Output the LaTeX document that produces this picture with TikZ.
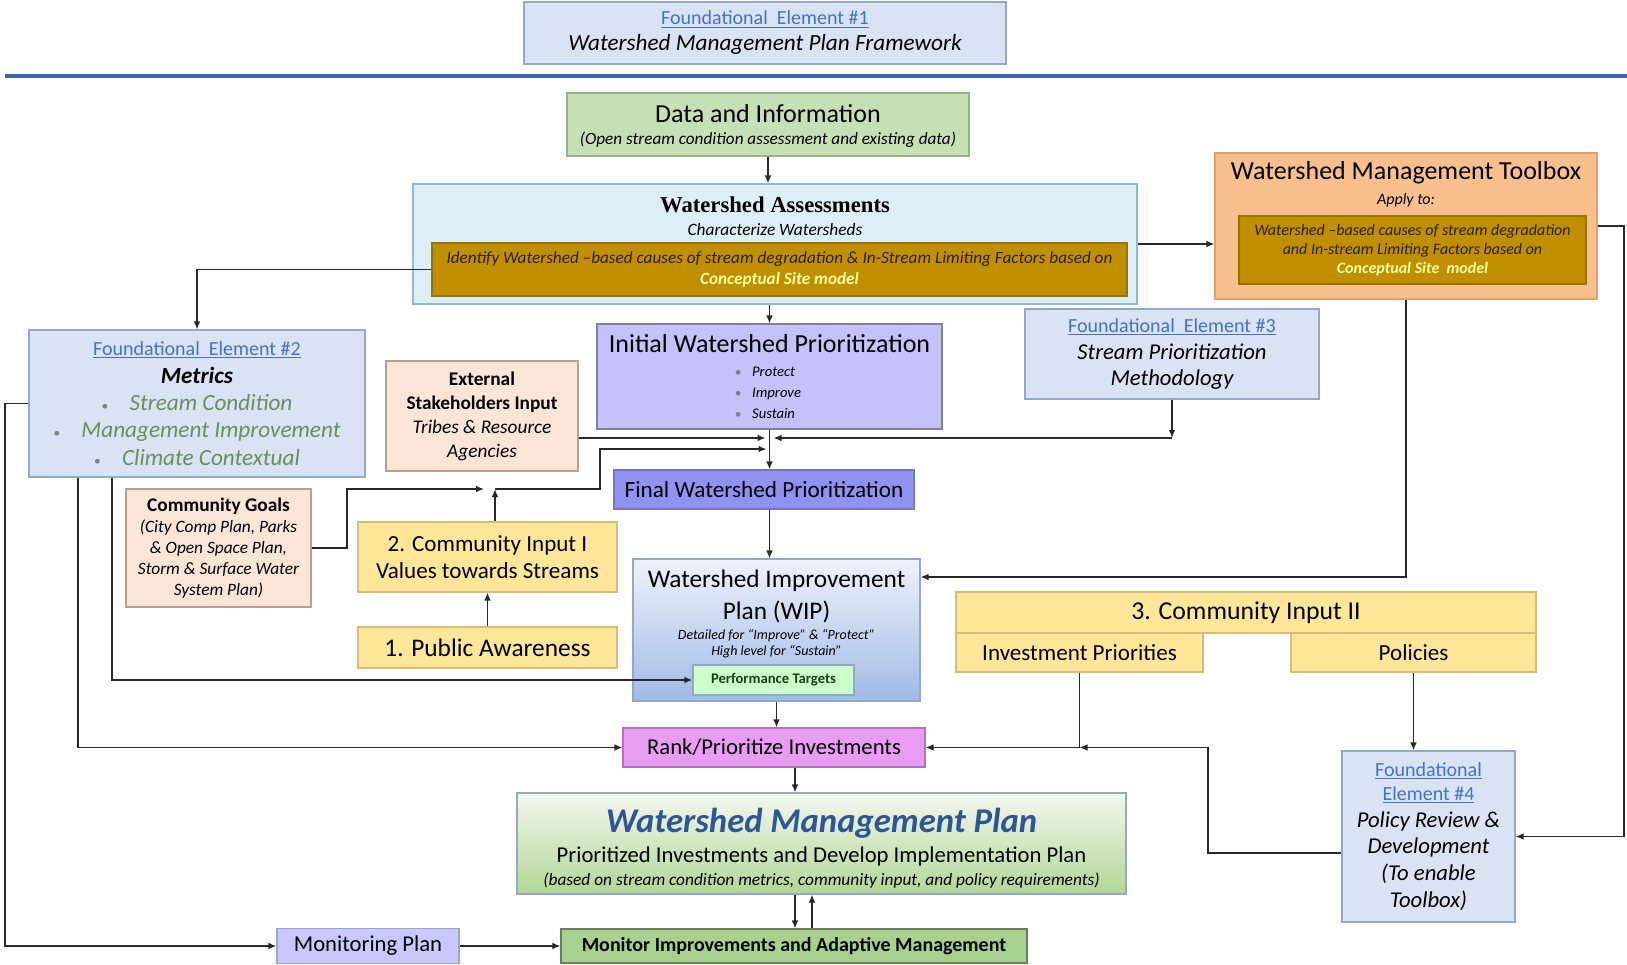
\documentclass[tikz,border=0pt]{standalone}
\usepackage{fontspec}
\setmainfont{Carlito}
\newfontfamily\serifhead{Liberation Serif}
\usetikzlibrary{calc,arrows.meta,positioning}
\usepackage{xcolor}
\definecolor{fe_fill}{RGB}{218,227,243}
\definecolor{fe_line}{RGB}{150,168,200}
\definecolor{link_blue}{RGB}{68,114,196}
\definecolor{sep_blue}{RGB}{60,100,175}
\definecolor{data_fill}{RGB}{197,224,180}
\definecolor{data_line}{RGB}{150,180,135}
\definecolor{wa_fill}{RGB}{220,238,246}
\definecolor{wa_line}{RGB}{150,185,210}
\definecolor{gold_fill}{RGB}{191,143,0}
\definecolor{gold_text}{RGB}{45,32,0}
\definecolor{concept_yellow}{RGB}{255,255,160}
\definecolor{tb_fill}{RGB}{249,192,142}
\definecolor{tb_line}{RGB}{225,160,115}
\definecolor{peach_fill}{RGB}{251,229,214}
\definecolor{peach_line}{RGB}{185,160,145}
\definecolor{yellow_fill}{RGB}{255,230,153}
\definecolor{yellow_line}{RGB}{215,190,120}
\definecolor{init_fill}{RGB}{200,192,250}
\definecolor{final_fill}{RGB}{145,145,242}
\definecolor{box_line}{RGB}{130,130,150}
\definecolor{wip_top}{RGB}{238,242,251}
\definecolor{wip_bottom}{RGB}{160,186,230}
\definecolor{pt_fill}{RGB}{204,255,204}
\definecolor{pt_text}{RGB}{25,65,25}
\definecolor{rank_fill}{RGB}{232,156,242}
\definecolor{wmp_top}{RGB}{242,248,238}
\definecolor{wmp_bottom}{RGB}{178,214,150}
\definecolor{wmp_blue}{RGB}{47,85,151}
\definecolor{mon_fill}{RGB}{200,200,250}
\definecolor{monimp_fill}{RGB}{169,209,142}
\definecolor{metric_green}{RGB}{108,142,92}
\definecolor{wire_gray}{RGB}{40,40,40}
\newcommand{\fsz}[2]{\fontsize{#1}{#2}\selectfont}
\newcommand{\felink}[1]{{\normalfont\color{link_blue}\fsz{15}{17}\underline{#1}}}
\newcommand{\dotb}{{\normalfont\color{gray}\fsz{10}{10}•}}
\tikzset{
  base/.style       = {rectangle, inner sep=0pt, align=center, line width=0.8pt},
  sz/.style 2 args  = {minimum width=#1*0.75pt, minimum height=#2*0.75pt},
  fenode/.style     = {base, fill=fe_fill, draw=fe_line},
  datanode/.style   = {base, fill=data_fill, draw=data_line},
  wanode/.style     = {base, fill=wa_fill, draw=wa_line},
  goldnode/.style   = {base, fill=gold_fill, draw=gold_fill!80!black, text=gold_text},
  tbnode/.style     = {base, fill=tb_fill, draw=tb_line},
  peachnode/.style  = {base, fill=peach_fill, draw=peach_line},
  yellownode/.style = {base, fill=yellow_fill, draw=yellow_line},
  initnode/.style   = {base, fill=init_fill, draw=box_line},
  finalnode/.style  = {base, fill=final_fill, draw=final_fill!80!black},
  wipnode/.style    = {base, top color=wip_top, bottom color=wip_bottom, draw=fe_line},
  ptnode/.style     = {base, fill=pt_fill, draw=fe_line, text=pt_text},
  ranknode/.style   = {base, fill=rank_fill, draw=rank_fill!75!black},
  wmpnode/.style    = {base, top color=wmp_top, bottom color=wmp_bottom, draw=fe_line},
  monnode/.style    = {base, fill=mon_fill, draw=fe_line},
  monimpnode/.style = {base, fill=monimp_fill, draw=data_line!70!black},
  txt/.style        = {inner sep=0pt, align=center},
  conn/.style       = {draw=wire_gray, line width=1.1pt, -{Latex[length=6pt,width=5pt]}},
  wire/.style       = {draw=wire_gray, line width=1.1pt},
  sepline/.style    = {draw=sep_blue, line width=2.4pt}
}

\begin{document}
\begin{tikzpicture}[x=0.75pt, y=-0.75pt]
    \useasboundingbox (0,0) rectangle (1627,964);

    % ----- Header -----
    \node[fenode, sz={482}{62}, font=\fsz{17.4}{19.5}] (FEone) at (765,33)
      {\felink{Foundational\ \ Element \#1}\\{\itshape Watershed Management Plan Framework}};
    \draw[sepline] (5,76) -- (1627,76);

    % ----- Data and assessments -----
    \node[datanode, sz={402}{63}] (Data) at (768,124.5) {};
    \node[txt, font=\fsz{19.5}{22}] (DataTitle) at (768,114) {Data and Information};
    \node[txt, font=\itshape\fsz{12.9}{15}] (DataSub) at (768,140)
      {(Open stream condition assessment and existing data)};
    \node[wanode, sz={724}{120}] (WA) at (775,244) {};
    \node[txt, font=\serifhead\bfseries\fsz{17}{20}] (WAtitle) at (775,205) {Watershed Assessments};
    \node[txt, font=\itshape\fsz{13}{15}] (WAsub) at (775,230) {Characterize Watersheds};
    \node[goldnode, sz={695}{53}, font=\itshape\fsz{12.9}{15.5}] (WAgold) at (779.5,269.5)
      {Identify Watershed –based causes of stream degradation \& In-Stream Limiting Factors based on\\
       {\bfseries\color{concept_yellow}Conceptual Site model}};

    % ----- Toolbox -----
    \node[tbnode, sz={382}{146}] (TB) at (1406,226) {};
    \node[txt, font=\fsz{19.5}{22}] (TBtitle) at (1406,173) {Watershed Management Toolbox};
    \node[txt, font=\itshape\fsz{12}{14}] (TBsub) at (1406,200) {Apply to:};
    \node[goldnode, sz={347}{68}, font=\itshape\fsz{12}{14.25}] (TBgold) at (1412.5,250)
      {Watershed –based causes of stream degradation\\and In-stream Limiting Factors based on\\
       {\bfseries\color{concept_yellow}Conceptual Site\ \ model}};

    % ----- Foundational elements -----
    \node[fenode, sz={294}{90}, font=\itshape\fsz{17}{20}] (FEthree) at (1172,354)
      {\felink{Foundational\ \ Element \#3}\\Stream Prioritization\\Methodology};
    \node[fenode, sz={336}{147}, font=\fsz{17.4}{20.5}] (FEtwo) at (197,403.5)
      {\felink{Foundational\ \ Element \#2}\\{\bfseries\itshape Metrics}\\
       {\color{metric_green}\itshape \dotb\hspace{16pt}Stream Condition}\\
       {\color{metric_green}\itshape \dotb\hspace{16pt}Management Improvement}\\
       {\color{metric_green}\itshape \dotb\hspace{16pt}Climate Contextual}};

    % ----- Community and stakeholder inputs -----
    \node[peachnode, sz={192}{110}, font=\fsz{14.5}{18}] (Ext) at (482,416)
      {{\bfseries External}\\{\bfseries Stakeholders Input}\\{\itshape Tribes \& Resource}\\{\itshape Agencies}};
    \node[peachnode, sz={185}{118}, font=\itshape\fsz{13}{15.75}] (CG) at (218.5,548)
      {{\normalfont\bfseries\fsz{14.5}{16}Community Goals}\\(City Comp Plan, Parks\\\& Open Space Plan,\\Storm \& Surface Water\\System Plan)};
    \node[yellownode, sz={259}{70}, font=\fsz{17.3}{20}] (CIone) at (487.5,557)
      {2. Community Input I\\Values towards Streams};
    \node[yellownode, sz={259}{41}, font=\fsz{19}{20}] (PA) at (487.5,647.5) {1. Public Awareness};

    % ----- Prioritization -----
    \node[initnode, sz={345}{105}, font=\itshape\fsz{11}{15.75}] (Init) at (769.5,376.5)
      {{\normalfont\fsz{19.5}{22}Initial Watershed Prioritization}\\[2.5pt]
       \makebox[52pt][l]{\dotb\hspace{8pt}Protect}\\
       \makebox[52pt][l]{\dotb\hspace{8pt}Improve}\\
       \makebox[52pt][l]{\dotb\hspace{8pt}Sustain}};
    \node[finalnode, sz={300}{39}, font=\fsz{17.4}{20}] (Final) at (764,489.5) {Final Watershed Prioritization};

    % ----- Improvement plan -----
    \node[wipnode, sz={287}{142}] (WIP) at (776.5,630) {};
    \node[txt, font=\fsz{19}{24}] (WIPtitle) at (776.5,596) {Watershed Improvement\\Plan (WIP)};
    \node[txt, font=\itshape\fsz{10.5}{12}] (WIPnote) at (776.5,644)
      {Detailed for “Improve” \& “Protect”\\High level for “Sustain”};
    \node[ptnode, sz={161}{30}, font=\bfseries\fsz{11}{13}] (PT) at (773.5,680) {Performance Targets};
    \node[ranknode, sz={302}{39}, font=\fsz{17}{20}] (Rank) at (774,747.5) {Rank/Prioritize Investments};

    % ----- Community input II and policy -----
    \node[yellownode, sz={580}{41}, font=\fsz{19.3}{20}] (CItwo) at (1246,612.5) {3. Community Input II};
    \node[yellownode, sz={247}{39}, font=\fsz{17.3}{20}] (IP) at (1079.5,652.5) {Investment Priorities};
    \node[yellownode, sz={245}{39}, font=\fsz{17.3}{20}] (Pol) at (1413.5,652.5) {Policies};
    \node[fenode, sz={173}{171}, font=\itshape\fsz{17}{20}] (FEfour) at (1428.5,836.5)
      {\felink{Foundational}\\[-2pt]\felink{Element \#4}\\Policy Review \&\\Development\\(To enable\\Toolbox)};

    % ----- Plan and monitoring -----
    \node[wmpnode, sz={609}{101}] (WMP) at (821.5,843.5) {};
    \node[txt, font=\fsz{17}{17}] (WMPtext) at (821.5,848)
      {{\bfseries\itshape\color{wmp_blue}\fsz{26}{27}Watershed Management Plan}\\[6pt]
       Prioritized Investments and Develop Implementation Plan\\
       {\itshape\fsz{13}{14}(based on stream condition metrics, community input, and policy requirements)}};
    \node[monnode, sz={182}{35}, font=\fsz{17}{20}] (MonPlan) at (368,946) {Monitoring Plan};
    \node[monimpnode, sz={466}{34}, font=\bfseries\fsz{15}{17}] (MonImp) at (794,946)
      {Monitor Improvements and Adaptive Management};

    % Rails and levels
    \coordinate (lvlSide)   at (0,438);
    \coordinate (lvlGoal)   at (0,449);
    \coordinate (lvlTB)     at (0,577);
    \coordinate (lvlFour)   at (0,853);
    \coordinate (leftRail)  at (5,0);
    \coordinate (rightRail) at (1624,0);
    \coordinate (colRank)   at (78,0);
    \coordinate (colTarget) at (112,0);
    \coordinate (goalCol)   at (347,0);
    \coordinate (bendCol)   at (600,0);
    \coordinate (colFour)   at (1208,0);
    \coordinate (colDown)   at (795,0);
    \coordinate (colUp)     at (812,0);
    \coordinate (join)      at (495,489);
    \coordinate (joinL)     at (484,489);
    \coordinate (inL) at ($(Init.south |- lvlSide)+(-4,0)$);
    \coordinate (inR) at ($(Init.south |- lvlSide)+(4,0)$);
    \coordinate (inG) at ($(Init.south |- lvlGoal)+(-3,0)$);
    \coordinate (fe3Turn) at (FEthree.south |- lvlSide);

    % Connections: top flow
    \draw[conn] (Data.south) -- (Data.south |- WA.north);
    \draw[conn] (Init.north |- WA.south) -- (Init.north);
    \draw[conn] (WA.east) -- (WA.east -| TB.west);
    \draw[conn] (WAgold.west) -| (FEtwo.north);

    % Connections: into the final prioritization
    \draw[conn] (Ext.east |- lvlSide) -- (inL);
    \draw[conn] (FEthree.south) -- (fe3Turn);
    \draw[conn] (fe3Turn) -- (inR);
    \draw[conn] (CG.east) -- (CG.east -| goalCol) |- (joinL);
    \draw[conn] (CIone.north -| join) -- (join);
    \draw[conn] (join) -- (join -| bendCol) |- (inG);
    \draw[conn] (PA.north) -- (CIone.south);
    \draw[conn] (Init.south) -- (Init.south |- Final.north);

    % Connections: improvement plan and ranking
    \draw[conn] (Final.south -| Init.south) -- (WIP.north -| Init.south);
    \draw[conn] (TB.south) |- (WIP.east |- lvlTB);
    \draw[conn] (WIP.south) -- (WIP.south |- Rank.north);
    \draw[conn] (TB.east) -- (TB.east -| rightRail) |- (FEfour.east);
    \draw[conn] (Pol.south) -- (Pol.south |- FEfour.north);
    \draw[conn] (FEfour.west |- lvlFour) -| (colFour |- Rank.east) -- (IP.south |- Rank.east);
    \draw[wire] (IP.south) -- (IP.south |- Rank.east);
    \draw[conn] (IP.south |- Rank.east) -- (Rank.east);

    % Connections: metrics feeds
    \draw[conn] (FEtwo.west) -- (FEtwo.west -| leftRail) |- (MonPlan.west);
    \draw[conn] (FEtwo.south -| colRank) |- (Rank.west);
    \draw[conn] (FEtwo.south -| colTarget) |- (PT.west);

    % Connections: plan and monitoring
    \draw[conn] (Rank.south -| colDown) -- (WMP.north -| colDown);
    \draw[conn] (WMP.south -| colDown) -- (MonImp.north -| colDown);
    \draw[conn] (MonImp.north -| colUp) -- (WMP.south -| colUp);
    \draw[conn] (MonPlan.east) -- (MonImp.west);
\end{tikzpicture}
\end{document}
